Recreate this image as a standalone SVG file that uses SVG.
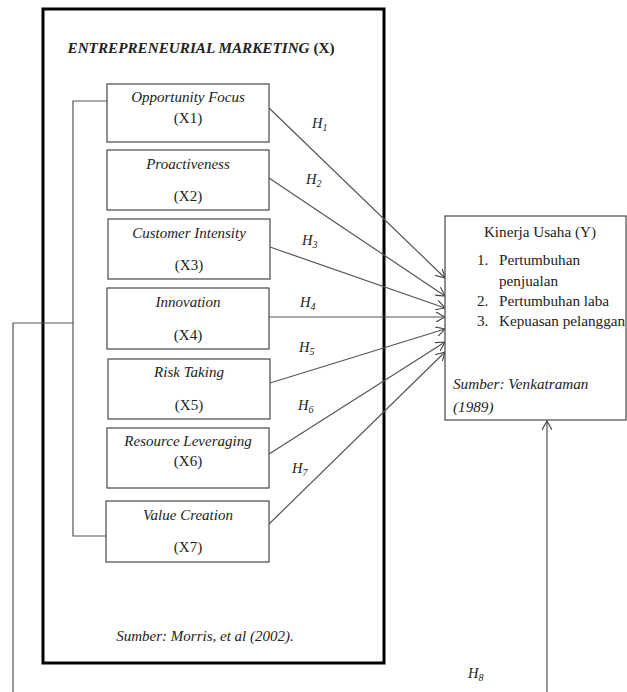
<svg xmlns="http://www.w3.org/2000/svg" width="627" height="692" viewBox="0 0 627 692">
<style>
  text { font-family: "Liberation Serif", "Times New Roman", serif; fill: #222; }
  .it { font-style: italic; }
  .box { fill: #fff; stroke: #555; stroke-width: 1.3; }
  .lbl { font-size: 15px; text-anchor: middle; }
  .h { font-size: 14.5px; font-style: italic; }
  .sub { font-size: 10px; }
  .ln { fill: none; stroke: #555; stroke-width: 1.2; }
  .ky { font-size: 15.2px; }
</style>
<defs>
  <marker id="arr" markerWidth="10" markerHeight="10" refX="9" refY="5" orient="auto" markerUnits="userSpaceOnUse">
    <path d="M0,0 L9,5 L0,10" fill="none" stroke="#444" stroke-width="1.1"/>
  </marker>
</defs>
<rect width="627" height="692" fill="#fff"/>

<g id="frame">
  <rect x="43" y="9" width="341" height="654" fill="none" stroke="#000" stroke-width="3"/>
  <text x="201" y="53" font-size="15.2" font-weight="bold" text-anchor="middle"><tspan font-style="italic">ENTREPRENEURIAL MARKETING</tspan> (X)</text>
  <text class="it" x="205" y="641" font-size="15" text-anchor="middle">Sumber: Morris, et al (2002).</text>
</g>

<g id="connectors">
  <polyline class="ln" points="107,101 73,101 73,536 106,536"/>
  <polyline class="ln" points="73,323 13,323 13,692"/>
  <line class="ln" x1="269" y1="108" x2="445" y2="278" marker-end="url(#arr)"/>
  <line class="ln" x1="269" y1="178" x2="445" y2="296" marker-end="url(#arr)"/>
  <line class="ln" x1="270" y1="247" x2="445" y2="308" marker-end="url(#arr)"/>
  <line class="ln" x1="269" y1="317" x2="445" y2="317" marker-end="url(#arr)"/>
  <line class="ln" x1="270" y1="383" x2="445" y2="329" marker-end="url(#arr)"/>
  <line class="ln" x1="269" y1="454" x2="445" y2="342" marker-end="url(#arr)"/>
  <line class="ln" x1="268" y1="525" x2="445" y2="352" marker-end="url(#arr)"/>
  <line class="ln" x1="547" y1="692" x2="547" y2="421" marker-end="url(#arr)"/>
  <text class="h" x="312" y="128">H<tspan class="sub" dy="3">1</tspan></text>
  <text class="h" x="306" y="184">H<tspan class="sub" dy="3">2</tspan></text>
  <text class="h" x="302" y="245">H<tspan class="sub" dy="3">3</tspan></text>
  <text class="h" x="300" y="307">H<tspan class="sub" dy="3">4</tspan></text>
  <text class="h" x="299" y="352">H<tspan class="sub" dy="3">5</tspan></text>
  <text class="h" x="298" y="410">H<tspan class="sub" dy="3">6</tspan></text>
  <text class="h" x="292" y="473">H<tspan class="sub" dy="3">7</tspan></text>
  <text class="h" x="468" y="678">H<tspan class="sub" dy="3">8</tspan></text>
</g>

<g id="x1">
  <rect class="box" x="107" y="84" width="162" height="58"/>
  <text class="lbl it" x="188" y="102">Opportunity Focus</text>
  <text class="lbl" x="188" y="123">(X1)</text>
</g>
<g id="x2">
  <rect class="box" x="107" y="150" width="162" height="60"/>
  <text class="lbl it" x="188" y="169">Proactiveness</text>
  <text class="lbl" x="188" y="201">(X2)</text>
</g>
<g id="x3">
  <rect class="box" x="108" y="219" width="162" height="60"/>
  <text class="lbl it" x="189" y="238">Customer Intensity</text>
  <text class="lbl" x="189" y="270">(X3)</text>
</g>
<g id="x4">
  <rect class="box" x="107" y="288" width="162" height="61"/>
  <text class="lbl it" x="188" y="307">Innovation</text>
  <text class="lbl" x="188" y="340">(X4)</text>
</g>
<g id="x5">
  <rect class="box" x="108" y="359" width="162" height="60"/>
  <text class="lbl it" x="189" y="377">Risk Taking</text>
  <text class="lbl" x="189" y="410">(X5)</text>
</g>
<g id="x6">
  <rect class="box" x="107" y="428" width="162" height="60"/>
  <text class="lbl it" x="188" y="446">Resource Leveraging</text>
  <text class="lbl" x="188" y="466">(X6)</text>
</g>
<g id="x7">
  <rect class="box" x="106" y="501" width="163" height="61"/>
  <text class="lbl it" x="188" y="520">Value Creation</text>
  <text class="lbl" x="188" y="552">(X7)</text>
</g>

<g id="y">
  <rect class="box" x="445" y="216" width="181" height="204"/>
  <text class="ky" x="540" y="237" text-anchor="middle">Kinerja Usaha (Y)</text>
  <text class="ky" x="477" y="265">1.</text>
  <text class="ky" x="499" y="265">Pertumbuhan</text>
  <text class="ky" x="499" y="286">penjualan</text>
  <text class="ky" x="477" y="306">2.</text>
  <text class="ky" x="499" y="306">Pertumbuhan laba</text>
  <text class="ky" x="477" y="326">3.</text>
  <text class="ky" x="499" y="326">Kepuasan pelanggan</text>
  <text class="ky it" x="453" y="389">Sumber: Venkatraman</text>
  <text class="ky it" x="453" y="412">(1989)</text>
</g>
</svg>
